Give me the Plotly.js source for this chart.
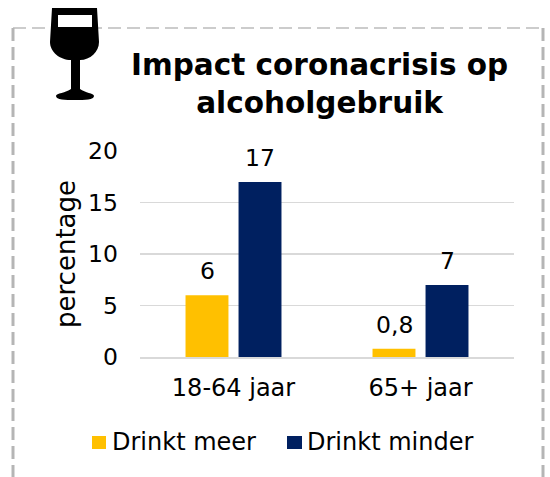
<!DOCTYPE html>
<html><head><meta charset="utf-8">
<script src="https://cdn.plot.ly/plotly-3.0.1.min.js"></script>
<style>html,body{margin:0;padding:0;background:#fff;overflow:hidden}#c{width:550px;height:477px}</style>
</head><body><div id="c"></div>
<script>
const categories = ["18-64 jaar", "65+ jaar"];
const drinktMeer = [6, 0.8];
const drinktMinder = [17, 7];
const meerLabels = ["6", "0,8"];
const minderLabels = ["17", "7"];
const seriesNames = ["Drinkt meer", "Drinkt minder"];
const seriesColors = ["#ffc000", "#002060"];
const titleLines = ["Impact coronacrisis op", "alcoholgebruik"];
const font = "'DejaVu Sans', Verdana, sans-serif";
const W = 550, H = 477, L = 140, R = 514, T = 151, B = 357;
const px = x => (x - L) / (R - L);
const py = y => (B - y) / (B - T);
function path(d){ return d.replace(/(-?\d+\.?\d*),(-?\d+\.?\d*)/g,(m,x,y)=>px(+x)+','+py(+y)); }
const glass = "M52,8 L97,8 L99,42 C99,52 90,60 80,60 L80,89 C85,93 94,93 94,96 C94,100 85,100 75,100 C65,100 56,100 56,96 C56,93 66,93 71,89 L71,60 C60,60 50,52 50,42 Z";
const win = "M58,15 L92,15 L92,27 L58,27 Z";
const traces = [
 {type:'bar',name:seriesNames[0],x:categories,y:drinktMeer,marker:{color:seriesColors[0]},hoverinfo:'skip'},
 {type:'bar',name:seriesNames[1],x:categories,y:drinktMinder,marker:{color:seriesColors[1]},hoverinfo:'skip'}
];
function labels(vals, texts, shift){
  return vals.map((v,i)=>({xref:'x',yref:'y',x:categories[i],y:v,text:texts[i],showarrow:false,xshift:shift,yshift:24,xanchor:'center',yanchor:'middle',font:{size:23.5,family:font,color:'#000'}}));
}
function legendText(name, x){
  return {xref:'paper',yref:'paper',x:px(x),y:py(442),text:name,showarrow:false,xanchor:'left',yanchor:'middle',font:{size:24,family:font,color:'#000'}};
}
function swatch(color, x0, x1){
  return {type:'rect',xref:'paper',yref:'paper',x0:px(x0),x1:px(x1),y0:py(449),y1:py(436),fillcolor:color,line:{width:0}};
}
const layout = {
 width:W,height:H,
 margin:{l:L,r:W-R,t:T,b:H-B,pad:0,autoexpand:false},
 paper_bgcolor:'#fff',plot_bgcolor:'#fff',
 font:{family:font,color:'#000',size:20},
 showlegend:false,
 bargap:0.433,bargroupgap:0.19,barmode:'group',
 xaxis:{type:'category',tickfont:{size:24},showline:true,linecolor:'#d9d9d9',linewidth:2,ticks:'',showgrid:false,zeroline:false,automargin:false,ticklabelstandoff:8},
 yaxis:{range:[0,20],tickvals:[0,5,10,15,20],ticktext:['0','5','10','15','20'],tickfont:{size:23.5},gridcolor:'#d9d9d9',gridwidth:1.5,zeroline:false,ticks:'',automargin:false,ticklabelstandoff:21,showline:false},
 annotations:[
  {xref:'paper',yref:'paper',x:px(319.5),y:py(84),text:'<b>'+titleLines[0]+'</b><br><b>'+titleLines[1]+'</b>',showarrow:false,font:{size:29.5,family:font,color:'#000'},align:'center',xanchor:'center',yanchor:'middle'},
  {xref:'paper',yref:'paper',x:px(66),y:py(254),text:'percentage',textangle:-90,showarrow:false,xanchor:'center',yanchor:'middle',font:{size:26,family:font,color:'#000'}},
  legendText(seriesNames[0],110),
  legendText(seriesNames[1],305),
  ...labels(drinktMeer,meerLabels,-26.5),
  ...labels(drinktMinder,minderLabels,26.5)
 ],
 shapes:[
  {type:'path',xref:'paper',yref:'paper',path:path("M13,28 L543,28"),line:{color:'#bcbcbc',width:1.5,dash:'13px,6px'},layer:'below'},
  {type:'path',xref:'paper',yref:'paper',path:path("M13,28 L13,480"),line:{color:'#b5b5b5',width:3,dash:'13px,6px'},layer:'below'},
  {type:'path',xref:'paper',yref:'paper',path:path("M543,28 L543,480"),line:{color:'#b5b5b5',width:3,dash:'13px,6px'},layer:'below'},
  {type:'path',xref:'paper',yref:'paper',path:path(glass),fillcolor:'#000',line:{width:0}},
  {type:'path',xref:'paper',yref:'paper',path:path(win),fillcolor:'#fff',line:{width:0}},
  swatch(seriesColors[0],92,106),
  swatch(seriesColors[1],287,302)
 ]
};
Plotly.newPlot('c',traces,layout,{displayModeBar:false,staticPlot:true});
</script></body></html>
